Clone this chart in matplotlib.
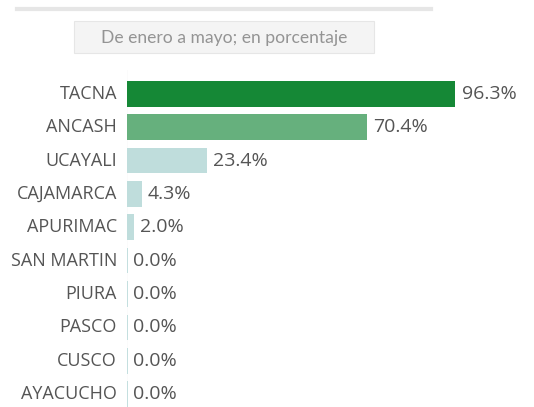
import matplotlib
matplotlib.use("Agg")
import matplotlib.pyplot as plt
from matplotlib.patches import Rectangle
from matplotlib.lines import Line2D

regions = ["TACNA", "ANCASH", "UCAYALI", "CAJAMARCA", "APURIMAC",
           "SAN MARTIN", "PIURA", "PASCO", "CUSCO", "AYACUCHO"]
values = [96.3, 70.4, 23.4, 4.3, 2.0, 0.0, 0.0, 0.0, 0.0, 0.0]
colors = ["#158836", "#66b07d", "#bfdddc", "#bfdddc", "#bfdddc",
          "#bfdddc", "#bfdddc", "#bfdddc", "#bfdddc", "#bfdddc"]
subtitle = "De enero a mayo; en porcentaje"

W, H = 534, 407
X0 = 127          # left edge of the bars, px
PX_PER_UNIT = 3.41
BAR_H = 0.77

fig = plt.figure(figsize=(W / 100, H / 100), dpi=100)
fig.patch.set_facecolor("white")

# header rule and subtitle box
fig.add_artist(Line2D([17 / W, 431 / W], [1 - 9 / H, 1 - 9 / H],
                      color="#e6e6e6", lw=3, transform=fig.transFigure))
fig.add_artist(Rectangle((74 / W, 1 - 53 / H), 300 / W, 32 / H,
                         transform=fig.transFigure, facecolor="#f4f4f4",
                         edgecolor="#e6e6e6", lw=0.8))
fig.text(224 / W, 1 - 38 / H, subtitle, ha="center", va="center",
         fontsize=12.6, color="#949494", family="Lato")

ax = fig.add_axes([X0 / W, 0, (W - X0) / W, 337 / H])
y = list(range(len(regions)))
ax.set_xlim(0, (W - X0) / PX_PER_UNIT)
ax.set_ylim(9.387, -0.715)

# faint baseline behind the bars
ax.axvline(-0.3, color="#efefef", lw=1, zorder=0)
ax.barh(y, values, height=BAR_H, color=colors, linewidth=0,
        align="center", zorder=2)
# thin left edge on every bar so zero values stay visible
ax.vlines([0] * len(y), [yi - BAR_H / 2 for yi in y],
          [yi + BAR_H / 2 for yi in y], colors=colors, lw=1.3, zorder=3)

for yi, v in zip(y, values):
    ax.text(v + 1.8, yi, f"{v:.1f}%", va="center", ha="left",
            fontsize=14, color="#555555", family="Open Sans")
    ax.text(-2.9, yi, regions[yi], va="center", ha="right",
            fontsize=13, color="#555555", family="Open Sans")

for s in ax.spines.values():
    s.set_visible(False)
ax.set_xticks([])
ax.set_yticks([])
ax.patch.set_alpha(0)

fig.savefig("out.png", dpi=100, facecolor="white")
